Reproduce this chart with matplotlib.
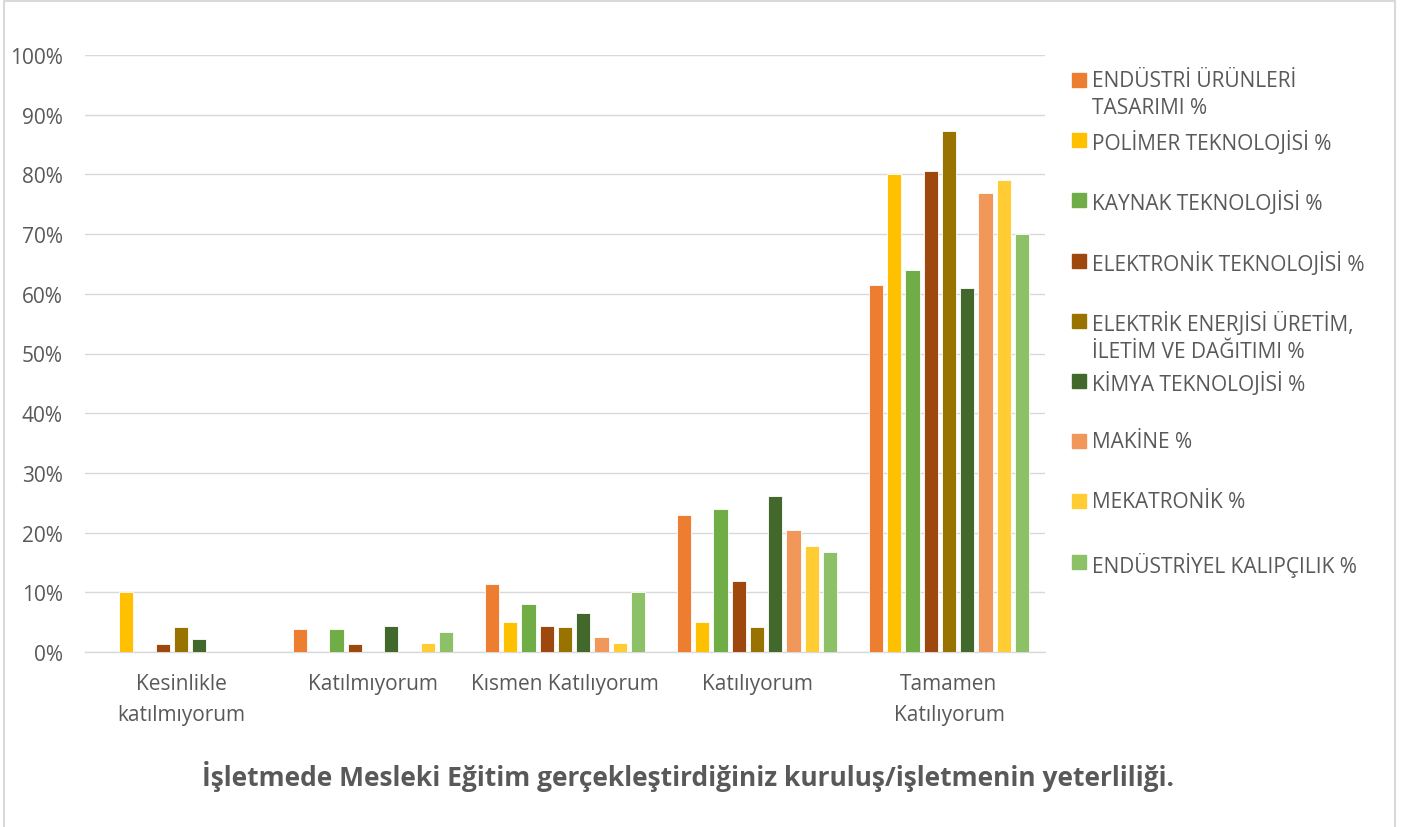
import matplotlib
matplotlib.use("Agg")
import matplotlib.pyplot as plt
from matplotlib.patches import Rectangle
from matplotlib.ticker import PercentFormatter
import numpy as np

# -------------------------
# data (percent)
# -------------------------
categories = ["Kesinlikle\nkatılmıyorum", "Katılmıyorum", "Kısmen Katılıyorum",
              "Katılıyorum", "Tamamen\nKatılıyorum"]

series_labels = [
    "ENDÜSTRİ ÜRÜNLERİ\nTASARIMI %",
    "POLİMER TEKNOLOJİSİ %",
    "KAYNAK TEKNOLOJİSİ %",
    "ELEKTRONİK TEKNOLOJİSİ %",
    "ELEKTRİK ENERJİSİ ÜRETİM,\nİLETİM VE DAĞITIMI %",
    "KİMYA TEKNOLOJİSİ %",
    "MAKİNE %",
    "MEKATRONİK %",
    "ENDÜSTRİYEL KALIPÇILIK %",
]

endustri_urunleri = [0.0, 3.8, 11.4, 23.0, 61.5]
polimer = [10.0, 0.0, 5.0, 5.0, 80.0]
kaynak = [0.0, 3.9, 8.0, 24.0, 64.0]
elektronik = [1.4, 1.4, 4.4, 11.9, 80.5]
elektrik_enerjisi = [4.2, 0.0, 4.2, 4.2, 87.2]
kimya = [2.1, 4.3, 6.5, 26.1, 60.9]
makine = [0.0, 0.0, 2.5, 20.5, 76.9]
mekatronik = [0.0, 1.5, 1.5, 17.7, 79.0]
kalipcilik = [0.0, 3.3, 10.0, 16.7, 70.0]

series_values = [endustri_urunleri, polimer, kaynak, elektronik, elektrik_enerjisi,
                 kimya, makine, mekatronik, kalipcilik]

colors = ["#ED7D31", "#FFC000", "#70AD47", "#9E480E", "#997300",
          "#43682B", "#F1975A", "#FFCD33", "#8CC168"]

TEXT = "#595959"
GRID = "#D9D9D9"
W, H = 1411, 828

plt.rcParams["font.family"] = ["Open Sans", "DejaVu Sans"]

fig = plt.figure(figsize=(W / 100, H / 100), dpi=100)
ax = fig.add_axes([85 / W, 1 - 653 / H, 960 / W, 597 / H])

x = np.arange(len(categories))
n = len(series_values)
step = 0.0953
bar_w = 0.0745
for i, (vals, col) in enumerate(zip(series_values, colors)):
    off = (i - (n - 1) / 2) * step
    ax.bar(x + off, vals, width=bar_w, color=col, edgecolor="white",
           linewidth=0.6, zorder=3)

ax.set_xlim(-0.5, len(categories) - 0.5)
ax.set_ylim(0, 100)
ax.set_yticks(np.arange(0, 101, 10))
ax.yaxis.set_major_formatter(PercentFormatter(decimals=0))
ax.set_xticks(x)
ax.set_xticklabels(categories, linespacing=1.65)
ax.grid(axis="y", color=GRID, linewidth=1.0, zorder=0)
for s in ["top", "right", "left"]:
    ax.spines[s].set_visible(False)
ax.spines["bottom"].set_color(GRID)
ax.spines["bottom"].set_linewidth(1.0)
ax.tick_params(axis="both", length=0, colors=TEXT, labelsize=15)
ax.tick_params(axis="y", pad=16)
ax.tick_params(axis="x", pad=15)

# legend, laid out by hand like the Excel one
for i, (lab, col) in enumerate(zip(series_labels, colors)):
    yc = 81 + 60.2 * i
    fig.patches.append(Rectangle((1072 / W, 1 - (yc + 7) / H), 14 / W, 14 / H,
                                 transform=fig.transFigure, color=col))
    fig.text(1092 / W, 1 - (yc - 10) / H, lab, color=TEXT, fontsize=15,
             va="top", ha="left", linespacing=1.4)

fig.text((197 + 1178) / 2 / W, 1 - 777 / H,
         "İşletmede Mesleki Eğitim gerçekleştirdiğiniz kuruluş/işletmenin yeterliliği.",
         color=TEXT, fontsize=19, fontweight="bold", ha="center", va="center")

# chart border
fig.patches.append(Rectangle((4 / W, -0.05), 1391 / W, 1 - 2 / H + 0.05,
                             transform=fig.transFigure, fill=False,
                             edgecolor=GRID, linewidth=1.5))

fig.savefig("out.png", dpi=100)
